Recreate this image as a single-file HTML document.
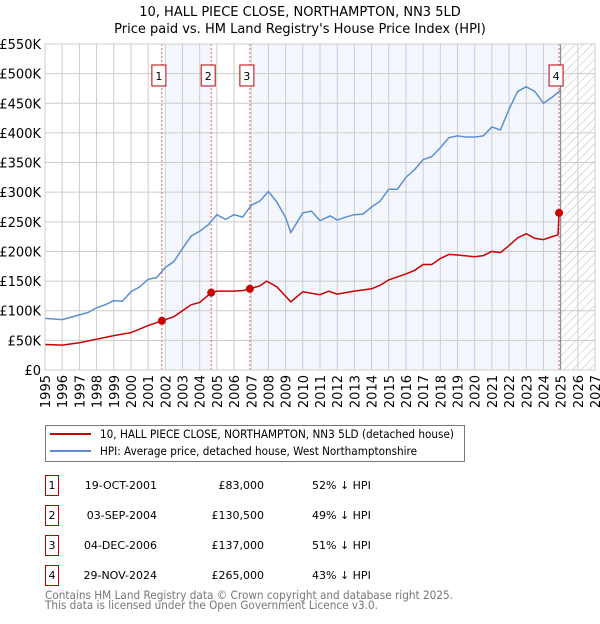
<!DOCTYPE html>
<html><head><meta charset="utf-8"><style>
body{margin:0;background:#fff;font-family:"DejaVu Sans","Liberation Sans",sans-serif;}
svg text{font-family:"DejaVu Sans","Liberation Sans",sans-serif;}
</style></head><body>
<svg id="c" width="600" height="620" xmlns="http://www.w3.org/2000/svg">
<defs><pattern id="hatch" width="6" height="6" patternUnits="userSpaceOnUse" patternTransform="rotate(45)"><line x1="0" y1="0" x2="0" y2="6" stroke="#bbb" stroke-width="1"/></pattern></defs>
<text x="300" y="16" text-anchor="middle" font-size="13">10, HALL PIECE CLOSE, NORTHAMPTON, NN3 5LD</text>
<text x="300" y="33" text-anchor="middle" font-size="13">Price paid vs. HM Land Registry's House Price Index (HPI)</text>
<g id="plot"></g>
<g>
<rect x="45.5" y="425.5" width="419" height="36" fill="#fff" stroke="#777"/>
<line x1="50" y1="434" x2="91" y2="434" stroke="#c00" stroke-width="2"/>
<text x="100" y="438" font-size="11.5" textLength="354" lengthAdjust="spacingAndGlyphs">10, HALL PIECE CLOSE, NORTHAMPTON, NN3 5LD (detached house)</text>
<line x1="50" y1="451" x2="91" y2="451" stroke="#5b8fd0" stroke-width="2"/>
<text x="100" y="455" font-size="11.5" textLength="317" lengthAdjust="spacingAndGlyphs">HPI: Average price, detached house, West Northamptonshire</text>
</g>
<g id="table" font-size="11"></g>
<text x="45" y="599" font-size="11.5" fill="#777" textLength="408" lengthAdjust="spacingAndGlyphs">Contains HM Land Registry data © Crown copyright and database right 2025.</text>
<text x="45" y="609" font-size="11.5" fill="#777" textLength="333" lengthAdjust="spacingAndGlyphs">This data is licensed under the Open Government Licence v3.0.</text>
</svg>
<script>
const hpiYears=[1995,1995.5,1996,1996.5,1997,1997.5,1998,1998.5,1999,1999.5,2000,2000.5,2001,2001.5,2002,2002.5,2003,2003.5,2004,2004.5,2005,2005.5,2006,2006.5,2007,2007.5,2008,2008.5,2009,2009.3,2010,2010.5,2011,2011.6,2012,2012.5,2013,2013.5,2014,2014.5,2015,2015.5,2016,2016.5,2017,2017.5,2018,2018.5,2019,2019.5,2020,2020.5,2021,2021.5,2022,2022.5,2023,2023.5,2024,2024.5,2025];
const hpiValues=[87,86,85,89,93,97,105,110,117,116,132,140,153,156,173,183,205,226,234,245,262,254,262,258,278,285,301,283,257,232,265,268,252,260,253,258,262,263,275,285,305,305,325,338,355,360,375,392,395,393,393,395,410,405,440,470,478,470,450,460,472];
const priceYears=[1995,1996,1997,1998,1999,2000,2001,2001.8,2002.5,2003,2003.5,2004,2004.67,2005,2006,2006.5,2006.92,2007.5,2007.9,2008.5,2009.3,2010,2011,2011.5,2012,2013,2014,2014.5,2015,2016,2016.5,2017,2017.5,2018,2018.5,2019,2020,2020.5,2021,2021.5,2022,2022.5,2023,2023.5,2024,2024.5,2024.85,2024.91];
const priceValues=[43,42,46,52,58,63,75,83,90,100,110,114,130.5,133,133,134,137,142,150,140,115,132,127,133,128,133,137,143,152,162,168,178,178,188,195,194,191,193,200,198,210,223,230,222,220,225,228,265];
const saleYears=[2001.8,2004.67,2006.92,2024.91];
const saleValues=[83,130.5,137,265];
const saleLabels=["1","2","3","4"];
const saleDates=["19-OCT-2001","03-SEP-2004","04-DEC-2006","29-NOV-2024"];
const salePrices=["£83,000","£130,500","£137,000","£265,000"];
const saleDiffs=["52% ↓ HPI","49% ↓ HPI","51% ↓ HPI","43% ↓ HPI"];
const yTicks=[0,50,100,150,200,250,300,350,400,450,500,550];
const yTickLabels=["£0","£50K","£100K","£150K","£200K","£250K","£300K","£350K","£400K","£450K","£500K","£550K"];
const xTicks=[1995,1996,1997,1998,1999,2000,2001,2002,2003,2004,2005,2006,2007,2008,2009,2010,2011,2012,2013,2014,2015,2016,2017,2018,2019,2020,2021,2022,2023,2024,2025,2026,2027];
const L=45,R=595,T=44,B=370,X0=1995,X1=2027,YMAX=550;
const xs=v=>L+(v-X0)/(X1-X0)*(R-L);
const ys=v=>B-v/YMAX*(B-T);
const NS="http://www.w3.org/2000/svg";
const plot=document.getElementById('plot');
function mk(tag,attrs,parent){const e=document.createElementNS(NS,tag);for(const k in attrs)e.setAttribute(k,attrs[k]);(parent||plot).appendChild(e);return e;}
let s=mk('rect',{x:xs(2002.05),y:T,width:xs(2004.67)-xs(2002.05),height:B-T,fill:'#eef3fc',opacity:0.7});


s=mk('rect',{x:xs(2007.1),y:T,width:xs(2025)-xs(2007.1),height:B-T,fill:'#eef3fc',opacity:0.7});


s=mk('rect',{x:xs(2025),y:T,width:R-xs(2025),height:B-T,fill:'url(#hatch)'});


yTicks.forEach((v,i)=>{
 let g=mk('line',{x1:L,x2:R,y1:ys(v),y2:ys(v),stroke:'#ccc'});
 
 
 let t=mk('text',{x:L-4,y:ys(v)+5,'text-anchor':'end','font-size':13});
 
 
 t.textContent=yTickLabels[i];
});
xTicks.forEach(v=>{
 let g=mk('line',{x1:xs(v),x2:xs(v),y1:T,y2:B,stroke:'#ccc'});
 
 
 let t=mk('text',{x:0,y:0,'text-anchor':'end','font-size':13,transform:`translate(${xs(v)+5},${B+5}) rotate(-90)`});
 
 
 t.textContent=v;
});
let nl=mk('line',{x1:xs(2025),x2:xs(2025),y1:T,y2:B,stroke:'#888'});


saleYears.forEach((v,i)=>{
 let l=mk('line',{x1:xs(v),x2:xs(v),y1:T,y2:B,stroke:'#e06060','stroke-dasharray':'2,2'});
 
 
 let b=mk('rect',{x:xs(v)-10,y:65,width:14,height:21,fill:'#fff',stroke:'#b00'});
 
 
 let t=mk('text',{x:xs(v)-3,y:80,'text-anchor':'middle','font-size':11});
 
 
 t.textContent=saleLabels[i];
});
let hp=mk('polyline',{points:hpiYears.map((y,i)=>xs(y)+','+ys(hpiValues[i])).join(' '),fill:'none',stroke:'#5b8fd0','stroke-width':1.5});


let pp=mk('polyline',{points:priceYears.map((y,i)=>xs(y)+','+ys(priceValues[i])).join(' '),fill:'none',stroke:'#c00','stroke-width':1.5});


saleYears.forEach((v,i)=>{
 let c=mk('circle',{cx:xs(v),cy:ys(saleValues[i]),r:4,fill:'#c00'});
 
 
});
mk('rect',{x:L,y:T,width:R-L,height:B-T,fill:'none',stroke:'#ccc'});
const tb=document.getElementById('table');
saleLabels.forEach((lab,i)=>{
 const y0=475+i*30;
 let b=mk('rect',{x:45.5,y:y0+0.5,width:13,height:20,fill:'#fff',stroke:'#b00'},tb);
 
 
 const cells=[[lab,52,'middle'],[saleDates[i],157,'end'],[salePrices[i],264,'end'],[saleDiffs[i],312,'start']];
 cells.forEach(c=>{
  let t=mk('text',{x:c[1],y:y0+14,'text-anchor':c[2]},tb);
  
  
  t.textContent=c[0];
 });
});
</script>
</body></html>
